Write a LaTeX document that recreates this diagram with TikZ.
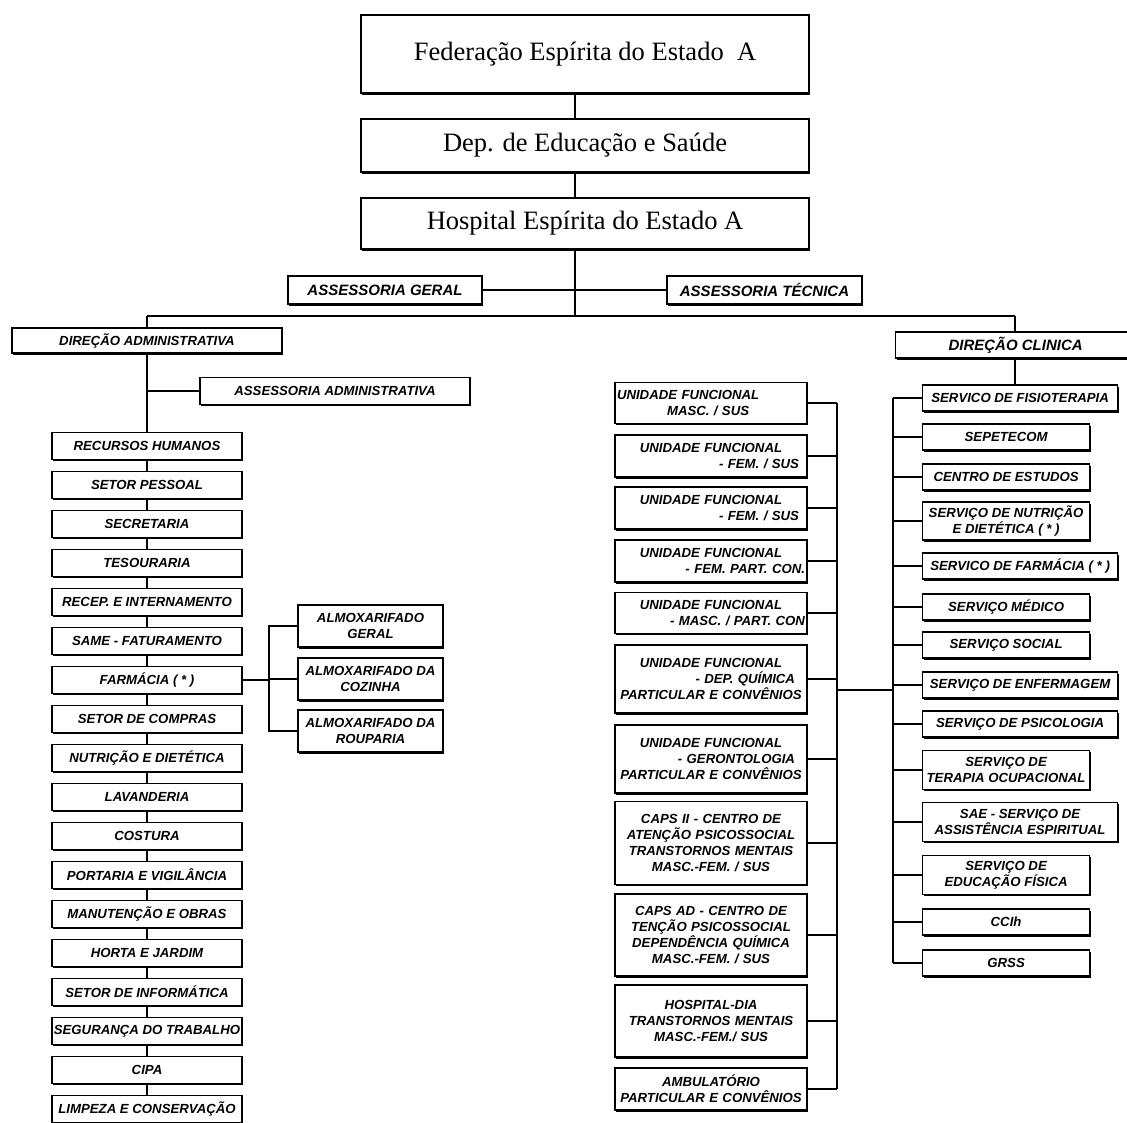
\documentclass[tikz,border=0pt]{standalone}
\usepackage{fontspec}
\setmainfont{Liberation Serif}
\newfontfamily\orgsans{Liberation Sans}
\usepackage{tikz}
\usetikzlibrary{positioning,shadows}

\begin{document}
\begin{tikzpicture}[x=1pt,y=-1pt,line width=1.2pt,
		base/.style={draw,fill=white,line width=1.2pt,
			general shadow={fill=black,shadow xshift=1pt,shadow yshift=-1.8pt}},
		topbox/.style={base,minimum width=448pt,font=\fontsize{26.5}{30}\selectfont},
		unit/.style={base,inner sep=1pt,align=center,
			font=\orgsans\bfseries\itshape\fontsize{13.2}{16}\selectfont},
		asses/.style={unit,minimum height=28pt,font=\orgsans\bfseries\itshape\fontsize{15}{17}\selectfont},
		sector/.style={unit,minimum width=190pt,minimum height=27pt},
		almox/.style={unit,minimum width=145pt,minimum height=42pt},
		func/.style={unit,text width=188pt,minimum width=192pt},
		svc/.style={unit,anchor=west,minimum width=167pt,minimum height=26pt},
		wide/.style={minimum width=195pt}]

	\fill[white] (0,0) rectangle (1127,1122);
	\useasboundingbox (0,0) rectangle (1127,1122);

	% topo
	\node[topbox,minimum height=78pt] (fed)  at (585,54)    {Federação Espírita do Estado\ \ A};
	\node[topbox,minimum height=53pt] (dep)  at (585,145.5) {Dep. de Educação e Saúde};
	\node[topbox,minimum height=51pt] (hosp) at (585,223.5) {Hospital Espírita do Estado A};
	\coordinate (spine) at (575,316);

	\node[asses,minimum width=194pt] (ag) at (385,290)   {ASSESSORIA GERAL};
	\node[asses,minimum width=195pt] (at) at (764.5,290) {ASSESSORIA TÉCNICA};

	\node[unit,minimum width=270pt,minimum height=25pt] (da) at (147,340.5) {DIREÇÃO ADMINISTRATIVA};
	\node[unit,minimum width=240pt,minimum height=26pt,anchor=west,
		font=\orgsans\bfseries\itshape\fontsize{15}{17}\selectfont] (dc) at (895,345) {DIREÇÃO CLINICA};
	\coordinate (barL) at (147,316);
	\coordinate (barR) at (1015,316);

	\draw (fed.south -| spine) -- (dep.north -| spine);
	\draw (dep.south -| spine) -- (hosp.north -| spine);
	\draw (hosp.south -| spine) -- (spine);
	\draw (ag) -- (at);
	\draw (barL) -- (barR);
	\draw (barL) -- (da.north);
	\draw (barR) -- (dc.north -| barR);

	% direcao administrativa
	\node[unit,minimum width=270pt,minimum height=27pt] (aa) at (335,391) {ASSESSORIA ADMINISTRATIVA};
	\node[sector] (rh) at (147,446) {RECURSOS HUMANOS};
	\node[sector,below=10.8pt of rh]   (pes)  {SETOR PESSOAL};
	\node[sector,below=10.8pt of pes]  (sec)  {SECRETARIA};
	\node[sector,below=10.8pt of sec]  (tes)  {TESOURARIA};
	\node[sector,below=10.8pt of tes]  (rec)  {RECEP. E INTERNAMENTO};
	\node[sector,below=10.8pt of rec]  (same) {SAME - FATURAMENTO};
	\node[sector,below=10.8pt of same] (farm) {FARMÁCIA ( * )};
	\node[sector,below=10.8pt of farm] (comp) {SETOR DE COMPRAS};
	\node[sector,below=10.8pt of comp] (nut)  {NUTRIÇÃO E DIETÉTICA};
	\node[sector,below=10.8pt of nut]  (lav)  {LAVANDERIA};
	\node[sector,below=10.8pt of lav]  (cos)  {COSTURA};
	\node[sector,below=10.8pt of cos]  (port) {PORTARIA E VIGILÂNCIA};
	\node[sector,below=10.8pt of port] (man)  {MANUTENÇÃO E OBRAS};
	\node[sector,below=10.8pt of man]  (hor)  {HORTA E JARDIM};
	\node[sector,below=10.8pt of hor]  (inf)  {SETOR DE INFORMÁTICA};
	\node[sector,below=10.8pt of inf]  (seg)  {SEGURANÇA DO TRABALHO};
	\node[sector,below=10.8pt of seg]  (cipa) {CIPA};
	\node[sector,below=10.8pt of cipa] (limp) {LIMPEZA E CONSERVAÇÃO};

	\draw (da) -- (rh) -- (pes) -- (sec) -- (tes) -- (rec) -- (same) -- (farm) -- (comp) -- (nut)
		-- (lav) -- (cos) -- (port) -- (man) -- (hor) -- (inf) -- (seg) -- (cipa) -- (limp);
	\draw (aa.west) -- (aa.west -| da.south);

	\node[almox] (alm1) at (370.5,626) {ALMOXARIFADO\\GERAL};
	\node[almox] (alm2) at (370.5,679) {ALMOXARIFADO DA\\COZINHA};
	\node[almox] (alm3) at (370.5,731) {ALMOXARIFADO DA\\ROUPARIA};
	\coordinate (ab) at (269,680);
	\draw (farm.east) -- (farm.east -| ab);
	\draw (alm1.west) -| (ab |- alm3.west) -- (alm3.west);
	\draw (alm2.west) -- (alm2.west -| ab);

	% unidades funcionais
	\node[func,minimum height=41pt] (uf1) at (711,403)
		{\makebox[188pt][l]{UNIDADE FUNCIONAL}\\\makebox[188pt][l]{\hspace*{50pt}MASC. / SUS}};
	\node[func,minimum height=42pt] (uf2) at (711,456)
		{UNIDADE FUNCIONAL\\\makebox[188pt][r]{- FEM. / SUS\hspace*{6pt}}};
	\node[func,minimum height=42pt] (uf3) at (711,508)
		{UNIDADE FUNCIONAL\\\makebox[188pt][r]{- FEM. / SUS\hspace*{6pt}}};
	\node[func,minimum height=42pt] (uf4) at (711,561)
		{UNIDADE FUNCIONAL\\\makebox[188pt][r]{- FEM. PART. CON.}};
	\node[func,minimum height=41pt] (uf5) at (711,613)
		{UNIDADE FUNCIONAL\\\makebox[188pt][r]{- MASC. / PART. CON}};
	\node[func,minimum height=68pt] (uf6) at (711,679)
		{UNIDADE FUNCIONAL\\\makebox[188pt][r]{- DEP. QUÍMICA\hspace*{10pt}}\\PARTICULAR E CONVÊNIOS};
	\node[func,minimum height=68pt] (uf7) at (711,759)
		{UNIDADE FUNCIONAL\\\makebox[188pt][r]{- GERONTOLOGIA\hspace*{10pt}}\\PARTICULAR E CONVÊNIOS};
	\node[func,minimum height=83pt] (caps) at (711,843)
		{CAPS II - CENTRO DE\\ATENÇÃO PSICOSSOCIAL\\TRANSTORNOS MENTAIS\\MASC.-FEM. / SUS};
	\node[func,minimum height=82pt] (capsad) at (711,935)
		{CAPS AD - CENTRO DE\\TENÇÃO PSICOSSOCIAL\\DEPENDÊNCIA QUÍMICA\\MASC.-FEM. / SUS};
	\node[func,minimum height=72pt] (hdia) at (711,1021) {HOSPITAL-DIA\\TRANSTORNOS MENTAIS\\MASC.-FEM./ SUS};
	\node[func,minimum height=42pt] (amb)  at (711,1089) {AMBULATÓRIO\\PARTICULAR E CONVÊNIOS};
	\coordinate (mbus) at (837,403);
	\foreach \n in {uf1,uf2,uf3,uf4,uf5,uf6,uf7,caps,capsad,hdia,amb}
		\draw (\n.east) -- (\n.east -| mbus);
	\draw (mbus) -- (amb.east -| mbus);

	% direcao clinica
	\node[svc,wide] (fis)  at (922,398) {SERVICO DE FISIOTERAPIA};
	\node[svc] (sep)  at (922,437) {SEPETECOM};
	\node[svc] (cest) at (922,477) {CENTRO DE ESTUDOS};
	\node[svc,minimum height=38pt] (snut) at (922,521) {SERVIÇO DE NUTRIÇÃO\\E DIETÉTICA ( * )};
	\node[svc,wide] (sfar) at (922,566) {SERVICO DE FARMÁCIA ( * )};
	\node[svc] (med)  at (922,607) {SERVIÇO MÉDICO};
	\node[svc] (soc)  at (922,645) {SERVIÇO SOCIAL};
	\node[svc,wide] (enf)  at (922,685) {SERVIÇO DE ENFERMAGEM};
	\node[svc,wide] (psi)  at (922,724) {SERVIÇO DE PSICOLOGIA};
	\node[svc,minimum height=39pt] (ter) at (922,770) {SERVIÇO DE\\TERAPIA OCUPACIONAL};
	\node[svc,wide,minimum height=39pt] (sae) at (922,822) {SAE - SERVIÇO DE\\ASSISTÊNCIA ESPIRITUAL};
	\node[svc,minimum height=39pt] (edf) at (922,875) {SERVIÇO DE\\EDUCAÇÃO FÍSICA};
	\node[svc] (ccih) at (922,922) {CCIh};
	\node[svc] (grss) at (922,963) {GRSS};
	\coordinate (rbus) at (893,398);
	\draw (dc.south -| barR) -- (fis.north -| barR);
	\foreach \n in {fis,sep,cest,snut,sfar,med,soc,enf,psi,ter,sae,edf,ccih,grss}
		\draw (\n.west) -- (\n.west -| rbus);
	\draw (rbus) -- (grss.west -| rbus);

	\coordinate (link) at (865,690);
	\draw (link -| mbus) -- (link -| rbus);
\end{tikzpicture}
\end{document}
